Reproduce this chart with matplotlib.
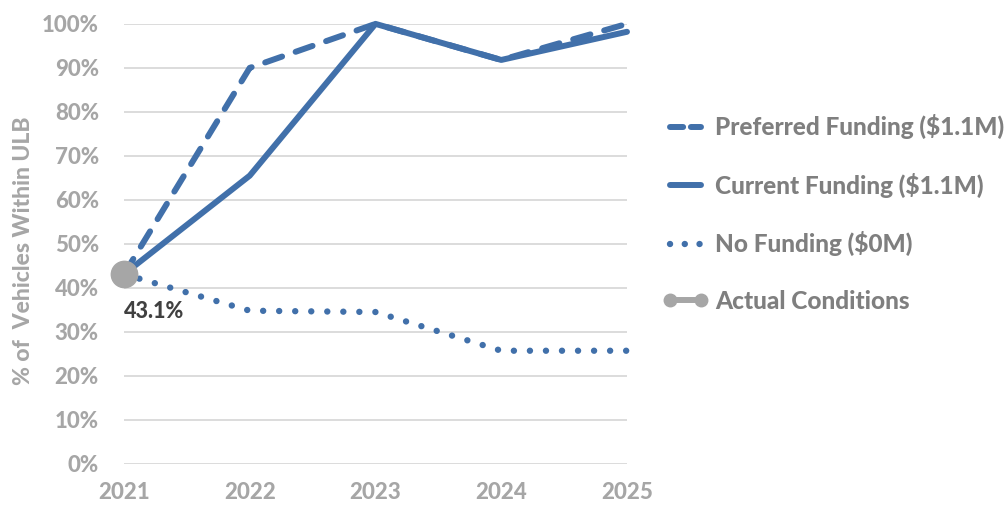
import matplotlib.pyplot as plt
from matplotlib.lines import Line2D

years = [2021, 2022, 2023, 2024, 2025]
preferred = [43.1, 90.0, 100.0, 91.8, 100.0]
current = [43.1, 65.5, 100.0, 91.8, 98.2]
no_funding = [43.1, 34.8, 34.5, 25.7, 25.7]
actual_years = [2021]
actual = [43.1]

blue = "#4170AA"
grey = "#A6A6A6"
wt = 900
plt.rcParams["font.family"] = ["Lato", "DejaVu Sans"]

fig = plt.figure(figsize=(10.08, 5.08), dpi=100)
ax = fig.add_axes([0.123, 0.087, 0.499, 0.866])

ax.plot(years, preferred, color=blue, lw=4.3, linestyle=(0, (3.0, 2.4)),
        dash_capstyle="round", solid_joinstyle="round", clip_on=False, zorder=3)
ax.plot(years, current, color=blue, lw=4.3, solid_capstyle="round",
        solid_joinstyle="round", clip_on=False, zorder=4)
ax.plot(years, no_funding, color=blue, lw=4.6, linestyle=(0, (0.01, 2.5)),
        dash_capstyle="round", clip_on=False, zorder=3)
ax.plot(actual_years, actual, "o", color=grey, ms=19, clip_on=False, zorder=5)
ax.annotate(f"{actual[0]:.1f}%", (actual_years[0], actual[0]), xytext=(0, -19),
            textcoords="offset points", ha="left", va="top",
            fontsize=15.5, color="#404040", fontweight=wt)

ax.set_xlim(2021, 2025)
ax.set_ylim(0, 100)
ax.set_xticks(years)
ax.set_yticks(range(0, 101, 10))
ax.set_yticklabels([f"{v}%" for v in range(0, 101, 10)])
ax.grid(axis="y", color="#D9D9D9", lw=1.3)
ax.set_axisbelow(True)
for s in ax.spines.values():
    s.set_visible(False)
ax.tick_params(length=0, labelsize=16, labelcolor=grey)
ax.tick_params(axis="y", pad=18)
ax.tick_params(axis="x", pad=13)
for lab in ax.get_xticklabels() + ax.get_yticklabels():
    lab.set_fontweight(wt)
ax.set_ylabel("% of  Vehicles Within ULB", fontsize=16.5, color=grey, fontweight=wt)
ax.yaxis.set_label_coords(-0.178, 0.484)

handles = [
    Line2D([], [], color=blue, lw=4.3, linestyle=(0, (2.2, 1.3)), dash_capstyle="round"),
    Line2D([], [], color=blue, lw=4.3, solid_capstyle="round"),
    Line2D([], [], color=blue, lw=4.6, linestyle=(0, (0.01, 2.3)), dash_capstyle="round"),
    Line2D([], [], color=grey, lw=4.3, marker="o", ms=9),
]
labels = ["Preferred Funding ($1.1M)", "Current Funding ($1.1M)",
          "No Funding ($0M)", "Actual Conditions"]
leg = fig.legend(handles, labels, loc="center left", bbox_to_anchor=(0.636, 0.58),
                 frameon=False, fontsize=17.6, handlelength=1.85, handletextpad=0.28,
                 labelspacing=1.37, numpoints=2, labelcolor="#7F7F7F")
for t in leg.get_texts():
    t.set_fontweight(wt)

fig.savefig("out.png", dpi=100)
